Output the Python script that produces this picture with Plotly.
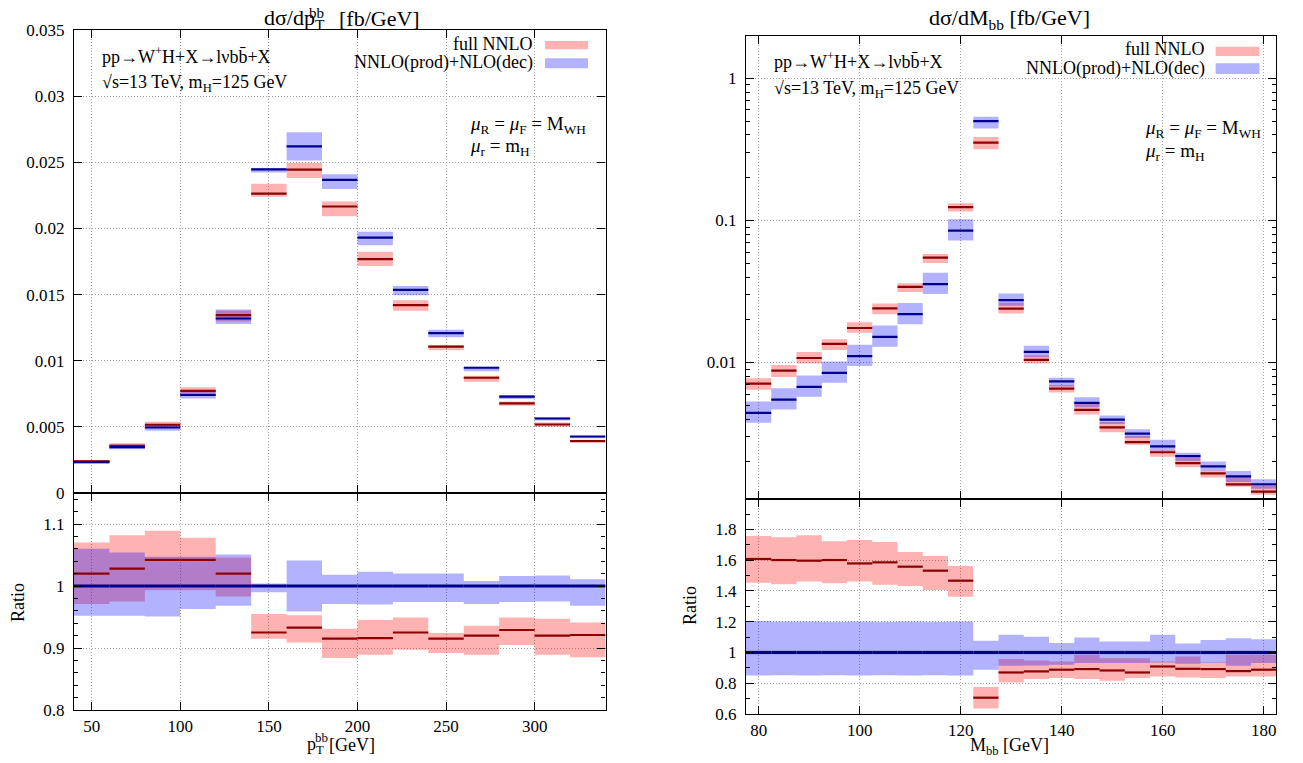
import plotly.graph_objects as go

# ---------------- Left: d sigma / d pT_bb ----------------
pt_edges = [40, 60, 80, 100, 120, 140, 160, 180, 200, 220, 240, 260, 280, 300, 320, 340]
# NNLO(prod)+NLO(dec) central values [fb/GeV]
pt_blue = [0.00234, 0.00347, 0.00495, 0.00741, 0.01319, 0.02447, 0.02620, 0.02367,
           0.01930, 0.01535, 0.01209, 0.00947, 0.00729, 0.00563, 0.00427]
# ratios to NNLO(prod)+NLO(dec) central
pt_red_ratio = [1.020, 1.028, 1.042, 1.042, 1.020, 0.925, 0.933, 0.915,
                0.916, 0.925, 0.915, 0.920, 0.929, 0.920, 0.921]
pt_red_lo = [0.971, 0.975, 0.993, 0.993, 0.983, 0.915, 0.909, 0.884,
             0.889, 0.897, 0.892, 0.889, 0.905, 0.889, 0.885]
pt_red_hi = [1.070, 1.082, 1.089, 1.078, 1.046, 0.955, 0.953, 0.931,
             0.945, 0.949, 0.924, 0.936, 0.949, 0.947, 0.941]
pt_blue_lo = [0.952, 0.952, 0.951, 0.963, 0.968, 0.990, 0.959, 0.971,
              0.970, 0.974, 0.974, 0.971, 0.974, 0.975, 0.968]
pt_blue_hi = [1.060, 1.054, 1.047, 1.047, 1.051, 1.004, 1.041, 1.018,
              1.023, 1.020, 1.020, 1.008, 1.016, 1.017, 1.011]

# ---------------- Right: d sigma / d M_bb ----------------
m_edges = [77.5, 82.5, 87.5, 92.5, 97.5, 102.5, 107.5, 112.5, 117.5, 122.5, 127.5,
           132.5, 137.5, 142.5, 147.5, 152.5, 157.5, 162.5, 167.5, 172.5, 177.5, 182.5]
m_blue = [0.00442, 0.00548, 0.00674, 0.00846, 0.01109, 0.01518, 0.02190, 0.03570,
          0.08480, 0.50000, 0.02752, 0.01189, 0.00738, 0.00520, 0.00396, 0.00316,
          0.00257, 0.00219, 0.00186, 0.00158, 0.00139]
m_red_ratio = [1.608, 1.601, 1.597, 1.601, 1.579, 1.586, 1.558, 1.532, 1.467, 0.706,
               0.870, 0.877, 0.888, 0.892, 0.883, 0.870, 0.909, 0.894, 0.892, 0.879, 0.888]
m_red_lo = [1.454, 1.443, 1.461, 1.450, 1.461, 1.441, 1.432, 1.406, 1.363, 0.635,
            0.805, 0.827, 0.834, 0.827, 0.816, 0.834, 0.844, 0.838, 0.834, 0.844, 0.844]
m_red_hi = [1.757, 1.750, 1.763, 1.724, 1.731, 1.718, 1.653, 1.627, 1.562, 0.775,
            0.957, 0.948, 0.942, 0.985, 0.963, 0.963, 0.942, 0.974, 0.935, 0.985, 0.985]
m_blue_lo = [0.851, 0.852, 0.851, 0.852, 0.851, 0.852, 0.851, 0.852, 0.851, 0.888,
             0.914, 0.916, 0.920, 0.931, 0.931, 0.931, 0.935, 0.926, 0.931, 0.914, 0.931]
m_blue_hi = [1.205, 1.201, 1.201, 1.200, 1.201, 1.200, 1.201, 1.200, 1.201, 1.076,
             1.115, 1.102, 1.061, 1.097, 1.071, 1.071, 1.115, 1.058, 1.082, 1.093, 1.086]

RED_FILL = "rgba(255,0,0,0.30)"
BLUE_FILL = "rgba(0,0,255,0.30)"
RED_LINE = "#8b0000"
BLUE_LINE = "#00008b"
FONT = "Liberation Serif"

# page has an 8px body margin: the figure is sized so the page fits the window exactly
OFF = 8
W, H = 1303 - 2 * OFF, 763 - 2 * OFF


def px(x):
    return (x - OFF) / W


def py(y):
    return 1 - (y - OFF) / H


def boxes(edges, lo, hi):
    xs, ys = [], []
    for i in range(len(lo)):
        a, b = edges[i], edges[i + 1]
        xs += [a, b, b, a, a, None]
        ys += [lo[i], lo[i], hi[i], hi[i], lo[i], None]
    return xs, ys


def segs(edges, vals):
    xs, ys = [], []
    for i in range(len(vals)):
        xs += [edges[i], edges[i + 1], None]
        ys += [vals[i], vals[i], None]
    return xs, ys


fig = go.Figure()


def add_panel(edges, blue, rr, rlo, rhi, blo, bhi, xa_top, ya_top, xa_bot, ya_bot):
    red_c = [r * b for r, b in zip(rr, blue)]
    red_lo_t = [r * b for r, b in zip(rlo, blue)]
    red_hi_t = [r * b for r, b in zip(rhi, blue)]
    blue_lo_t = [r * b for r, b in zip(blo, blue)]
    blue_hi_t = [r * b for r, b in zip(bhi, blue)]
    ones = [1.0 for _ in blue]
    for (xa, ya, rl, rh, bl, bh, rc, bc, lw) in [
        (xa_top, ya_top, red_lo_t, red_hi_t, blue_lo_t, blue_hi_t, red_c, blue, 2.2),
        (xa_bot, ya_bot, rlo, rhi, blo, bhi, rr, ones, 3.2),
    ]:
        x, y = boxes(edges, rl, rh)
        fig.add_trace(go.Scatter(x=x, y=y, fill="toself", fillcolor=RED_FILL, mode="lines",
                                 line=dict(width=0), xaxis=xa, yaxis=ya, hoverinfo="skip"))
        x, y = boxes(edges, bl, bh)
        fig.add_trace(go.Scatter(x=x, y=y, fill="toself", fillcolor=BLUE_FILL, mode="lines",
                                 line=dict(width=0), xaxis=xa, yaxis=ya, hoverinfo="skip"))
        x, y = segs(edges, rc)
        fig.add_trace(go.Scatter(x=x, y=y, mode="lines", line=dict(color=RED_LINE, width=2.2),
                                 xaxis=xa, yaxis=ya, hoverinfo="skip"))
        x, y = segs(edges, bc)
        fig.add_trace(go.Scatter(x=x, y=y, mode="lines", line=dict(color=BLUE_LINE, width=lw),
                                 xaxis=xa, yaxis=ya, hoverinfo="skip"))


add_panel(pt_edges, pt_blue, pt_red_ratio, pt_red_lo, pt_red_hi, pt_blue_lo, pt_blue_hi,
          "x", "y", "x2", "y2")
add_panel(m_edges, m_blue, m_red_ratio, m_red_lo, m_red_hi, m_blue_lo, m_blue_hi,
          "x3", "y3", "x4", "y4")

axis_common = dict(showline=True, linecolor="black", linewidth=1.3, mirror="ticks",
                   ticks="inside", ticklen=8, tickwidth=1, tickcolor="black",
                   showgrid=True, gridcolor="#a0a0a0", griddash="1px,2px", gridwidth=1,
                   zeroline=False, automargin=False,
                   tickfont=dict(family=FONT, size=17, color="black"))
yextra = dict(ticklabelstandoff=5)

LX = [px(74), px(605.5)]
RX = [px(746), px(1276.3)]

fig.update_layout(
    width=W, height=H, margin=dict(l=0, r=0, t=0, b=0, pad=0), autosize=False,
    paper_bgcolor="white", plot_bgcolor="white", showlegend=False,
    font=dict(family=FONT, size=17, color="black"),
    xaxis=dict(domain=LX, range=[40, 340], tickvals=[50, 100, 150, 200, 250, 300],
               showticklabels=False, anchor="y", **axis_common),
    yaxis=dict(domain=[py(493), py(30)], range=[0, 0.035], dtick=0.005, tick0=0,
               anchor="x", **axis_common, **yextra),
    xaxis2=dict(domain=LX, range=[40, 340], tickvals=[50, 100, 150, 200, 250, 300],
                anchor="y2", **axis_common),
    yaxis2=dict(domain=[py(710), py(493)], range=[0.8, 1.15], tickvals=[0.8, 0.9, 1.0, 1.1],
                ticktext=["0.8", "0.9", "1", "1.1"], anchor="x2",
                minor=dict(ticks="inside", ticklen=4, tickcolor="black", dtick=0.02, tick0=0.8,
                           showgrid=False),
                **axis_common, **yextra),
    xaxis3=dict(domain=RX, range=[77.5, 182.5], tickvals=[80, 100, 120, 140, 160, 180],
                showticklabels=False, anchor="y3", **axis_common),
    yaxis3=dict(domain=[py(498.7), py(35.7)], type="log", range=[-2.9586, 0.30103],
                tickvals=[0.01, 0.1, 1], ticktext=["0.01", "0.1", "1"], anchor="x3",
                minor=dict(ticks="inside", ticklen=4, tickcolor="black", showgrid=False,
                           tickvals=[0.002, 0.003, 0.004, 0.005, 0.006, 0.007, 0.008, 0.009,
                                     0.02, 0.03, 0.04, 0.05, 0.06, 0.07, 0.08, 0.09,
                                     0.2, 0.3, 0.4, 0.5, 0.6, 0.7, 0.8, 0.9, 2]),
                **axis_common, **yextra),
    xaxis4=dict(domain=RX, range=[77.5, 182.5], tickvals=[80, 100, 120, 140, 160, 180],
                anchor="y4", **axis_common),
    yaxis4=dict(domain=[py(714), py(498.7)], range=[0.6, 2.0],
                tickvals=[0.6, 0.8, 1.0, 1.2, 1.4, 1.6, 1.8],
                ticktext=["0.6", "0.8", "1", "1.2", "1.4", "1.6", "1.8"], anchor="x4",
                minor=dict(ticks="inside", ticklen=4, tickcolor="black", dtick=0.1, tick0=0.6,
                           showgrid=False),
                **axis_common, **yextra),
)

TXT = 18
ann = []


def note(x, y, text, xanchor="left", size=TXT, angle=0):
    ann.append(dict(x=px(x), y=py(y), xref="paper", yref="paper", text=text, showarrow=False,
                    xanchor=xanchor, yanchor="middle", textangle=angle,
                    font=dict(family=FONT, size=size, color="black")))


proc = "pp→W<sup>+</sup>H+X→lνbb\u0304+X"
energy = "√s=13 TeV, m<sub>H</sub>=125 GeV"
mu1 = "<i>μ</i><sub>R</sub> = <i>μ</i><sub>F</sub> = M<sub>WH</sub>"
mu2 = "<i>μ</i><sub>r</sub> = m<sub>H</sub>"

# left panel texts (sub- and superscript stacked as in the original)
note(262, 19, "dσ/dp<sub>T</sub>", "left", size=22)
note(307, 13, "bb", "left", size=15)
note(337, 19, "[fb/GeV]", "left", size=22)
note(100, 55, proc)
note(100, 83, energy)
note(535, 44, "full NNLO", "right")
note(535, 62, "NNLO(prod)+NLO(dec)", "right")
note(468, 125, mu1, size=19)
note(468, 147, mu2, size=19)
note(305, 745, "p<sub>T</sub>", "left")
note(313, 737, "bb", "left", size=13)
note(327, 745, "[GeV]", "left")
note(18, 603, "Ratio", "center", angle=-90)

# right panel texts
note(1010, 19, "dσ/dM<sub>bb</sub> [fb/GeV]", "center", size=22)
note(772, 61, proc)
note(772, 89, energy)
note(1207, 49, "full NNLO", "right")
note(1207, 68, "NNLO(prod)+NLO(dec)", "right")
note(1143, 129, mu1, size=19)
note(1143, 152, mu2, size=19)
note(1010, 746, "M<sub>bb</sub> [GeV]", "center")
note(690, 606, "Ratio", "center", angle=-90)

shapes = []
for (x0, x1, y0, y1, c) in [
    (545, 588, 41, 49.3, RED_FILL), (545, 588, 58.3, 68.3, BLUE_FILL),
    (1215.6, 1259.5, 46.7, 56, RED_FILL), (1215.6, 1259.5, 63.3, 74, BLUE_FILL),
]:
    shapes.append(dict(type="rect", xref="paper", yref="paper", x0=px(x0), x1=px(x1),
                       y0=py(y1), y1=py(y0), fillcolor=c, line=dict(width=0)))

fig.update_layout(annotations=ann, shapes=shapes)
fig.write_html("out.html")
